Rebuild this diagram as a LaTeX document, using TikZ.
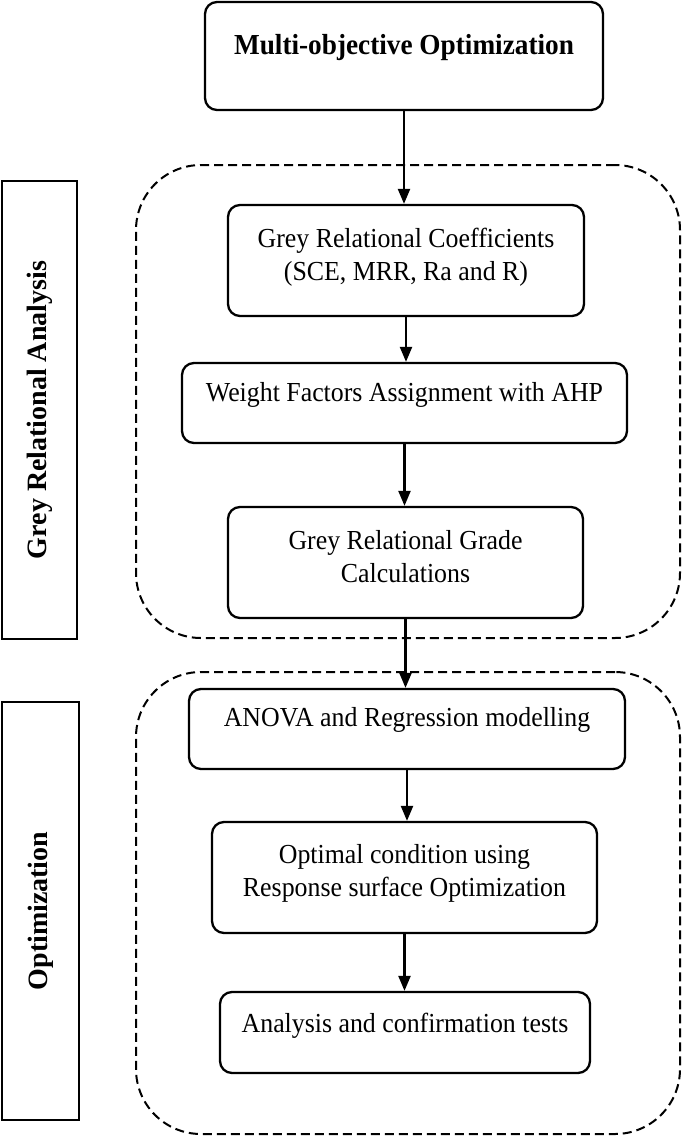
\documentclass[tikz,border=0pt]{standalone}
\usepackage{fontspec}
\setmainfont{Liberation Serif}
\newfontfamily\narrowserif[FakeStretch=0.94]{Liberation Serif}
\usetikzlibrary{arrows.meta}
\begin{document}
\begin{tikzpicture}[x=1pt,y=-1pt,
  box/.style={draw, line width=2.3pt, rounded corners=12pt, inner sep=0pt},
  grp/.style={draw, line width=2pt, dash pattern=on 9pt off 5pt, rounded corners=65pt, inner sep=0pt},
  side/.style={draw, line width=1.1pt, inner sep=0pt},
  txt/.style={align=center, inner sep=0pt, font=\narrowserif\fontsize{27.5}{33}\selectfont},
  ttl/.style={align=center, inner sep=0pt, font=\narrowserif\fontsize{29}{33}\selectfont\bfseries},
  sidetxt/.style={rotate=90, inner sep=0pt, font=\fontsize{28}{32}\selectfont\bfseries},
  arr/.style={-{Triangle[length=15pt,width=12pt]}, line width=2.3pt}
]
\useasboundingbox (0,0) rectangle (685,1136);

% dashed groups
\node[grp, minimum width=544pt, minimum height=473pt] (g1) at (408,401.5) {};
\node[grp, minimum width=544pt, minimum height=462pt] (g2) at (408,903) {};

% side labels
\node[side, minimum width=75pt, minimum height=458pt] (s1) at (39.5,410) {};
\node[sidetxt] (s1t) at (s1.center) {Grey Relational Analysis};
\node[side, minimum width=77pt, minimum height=418pt] (s2) at (40.5,911) {};
\node[sidetxt] (s2t) at (s2.center) {Optimization};

% boxes
\node[box, minimum width=398pt, minimum height=108pt] (t) at (404,56) {};
\node[ttl] (tt) at ([yshift=8pt]t.center) {Multi-objective Optimization};

\node[box, minimum width=356pt, minimum height=111pt] (b2) at (406,260.5) {};
\node[txt] (b2t) at ([yshift=3pt]b2.center) {Grey Relational Coefficients\\(SCE, MRR, Ra and R)};

\node[box, minimum width=445pt, minimum height=80pt] (b3) at (404.5,403) {};
\node[txt] (b3t) at ([yshift=8pt]b3.center) {Weight Factors Assignment with AHP};

\node[box, minimum width=355pt, minimum height=111pt] (b4) at (405.5,562.5) {};
\node[txt] (b4t) at ([yshift=6pt]b4.center) {Grey Relational Grade\\Calculations};

\node[box, minimum width=436pt, minimum height=80pt] (b5) at (407,729) {};
\node[txt] (b5t) at ([yshift=9pt]b5.center) {ANOVA and Regression modelling};

\node[box, minimum width=385pt, minimum height=111pt] (b6) at (404.5,877.5) {};
\node[txt] (b6t) at ([yshift=4pt]b6.center) {Optimal condition using\\Response surface Optimization};

\node[box, minimum width=370pt, minimum height=81pt] (b7) at (405,1032.5) {};
\node[txt] (b7t) at ([yshift=7pt]b7.center) {Analysis and confirmation tests};

% arrows
\draw[arr] (t.south) -- (t.south |- b2.north);
\draw[arr] (b2.south) -- (b2.south |- b3.north);
\draw[arr] (b3.south) -- (b3.south |- b4.north);
\draw[arr] (b4.south) -- (b4.south |- b5.north);
\draw[arr] (b5.south) -- (b5.south |- b6.north);
\draw[arr] (b6.south) -- (b6.south |- b7.north);
\end{tikzpicture}
\end{document}
